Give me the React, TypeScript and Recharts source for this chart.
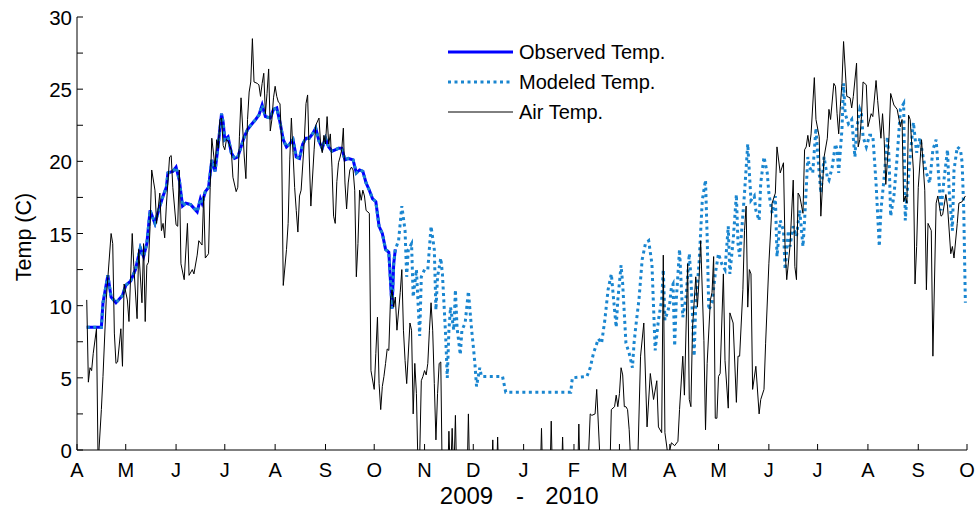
import { Line, LineChart, XAxis, YAxis } from "recharts";

// day offsets counted from 1 April 2009
const observed: [number, number][] = [
  [6, 8.5], [15, 8.5], [16, 10.2], [19, 12.1], [21, 10.6], [24, 10.2], [28, 10.7], [30, 11.4],
  [33, 11.7], [36, 12.5], [39, 14.0], [41, 13.4], [43, 14.3], [45, 16.6], [48, 15.7], [51, 16.9],
  [53, 17.6], [55, 18.2], [56, 19.2], [59, 19.3], [61, 19.6], [63, 18.7], [65, 16.9], [67, 17.1],
  [70, 17.0], [74, 16.5], [76, 17.4], [77, 17.1], [79, 17.9], [81, 18.2], [83, 20.1], [85, 19.3],
  [87, 21.2], [89, 23.3], [90, 22.7], [91, 21.5], [93, 21.7], [95, 20.6], [97, 20.2], [99, 20.3],
  [101, 21.0], [103, 21.7], [105, 22.2], [107, 22.5], [110, 22.9], [112, 23.2], [114, 23.9],
  [116, 23.1], [119, 23.0], [121, 23.6], [123, 23.7], [125, 22.7], [127, 21.5], [129, 21.0],
  [131, 21.2], [133, 21.5], [135, 20.3], [137, 20.2], [139, 21.2], [141, 21.6], [143, 21.6],
  [145, 21.9], [147, 22.3], [149, 21.4], [151, 20.9], [153, 21.6], [155, 21.0], [157, 20.7],
  [159, 20.8], [161, 20.9], [163, 20.9], [165, 20.1], [167, 20.2], [170, 20.1], [172, 19.2],
  [174, 19.4], [176, 19.3], [178, 18.5], [180, 18.0], [182, 17.4], [184, 17.2], [186, 15.5],
  [188, 15.0], [190, 13.9], [192, 13.7], [194, 9.8], [195, 12.9], [196, 13.9]
];

const modeledTail: [number, number][] = [
  [198, 14.5], [200, 16.9], [202, 15.2], [203, 12.0], [204, 13.9], [206, 14.3], [207, 10.6],
  [209, 12.5], [211, 7.9], [212, 12.0], [214, 12.5], [216, 12.5], [218, 15.5], [220, 13.9],
  [221, 9.7], [222, 12.0], [224, 13.3], [225, 12.2], [227, 7.9], [228, 5.0], [229, 8.3],
  [230, 9.9], [232, 8.3], [233, 11.1], [234, 8.5], [236, 6.6], [237, 8.3], [239, 8.8],
  [241, 11.0], [243, 8.3], [244, 7.2], [245, 6.0], [246, 4.4], [248, 5.7], [249, 5.1],
  [262, 5.1], [264, 4.0], [304, 4.0], [305, 5.0], [314, 5.1], [316, 5.7], [318, 6.7], [321, 7.7],
  [323, 7.4], [325, 9.0], [327, 11.1], [329, 12.2], [331, 9.7], [332, 8.5], [333, 10.4],
  [335, 12.8], [336, 11.5], [338, 7.4], [340, 6.7], [342, 5.7], [343, 7.4], [344, 8.5],
  [346, 10.4], [348, 13.2], [350, 14.3], [352, 14.5], [354, 12.9], [356, 6.9], [358, 9.0],
  [360, 10.4], [361, 12.5], [362, 9.0], [364, 9.7], [365, 10.2], [366, 11.3], [367, 11.5],
  [368, 7.2], [369, 10.4], [371, 13.9], [373, 9.2], [375, 10.6], [377, 13.6], [378, 12.0],
  [380, 6.5], [381, 10.2], [383, 12.9], [385, 17.3], [387, 18.7], [388, 14.8], [389, 9.7],
  [391, 10.2], [393, 12.2], [395, 13.6], [397, 12.9], [399, 12.5], [401, 15.5], [402, 12.2],
  [404, 14.5], [406, 17.7], [407, 14.3], [408, 13.4], [409, 14.8], [411, 17.8], [413, 21.2],
  [414, 19.2], [415, 17.3], [417, 17.6], [418, 16.6], [420, 15.9], [421, 18.5], [423, 20.3],
  [425, 19.2], [426, 17.8], [428, 16.4], [430, 17.6], [431, 13.4], [433, 15.9], [435, 15.2],
  [436, 12.5], [438, 15.2], [439, 14.1], [441, 15.5], [443, 14.8], [445, 16.6], [447, 14.1],
  [448, 15.9], [450, 20.3], [451, 19.6], [453, 19.2], [455, 22.3], [456, 20.6], [458, 17.8],
  [460, 20.3], [462, 18.9], [463, 18.7], [465, 19.6], [467, 21.2], [468, 20.8], [469, 19.2],
  [471, 22.2], [472, 25.4], [473, 23.3], [475, 22.6], [477, 22.9], [479, 20.3], [480, 22.2],
  [482, 23.6], [483, 23.3], [484, 21.7], [486, 21.0], [488, 21.8], [490, 21.8], [492, 18.5],
  [494, 14.1], [495, 16.6], [497, 18.9], [499, 21.7], [500, 20.3], [501, 16.2], [503, 17.6],
  [505, 20.3], [507, 23.6], [509, 24.0], [510, 15.9], [511, 17.6], [513, 20.3], [515, 22.7],
  [517, 20.6], [519, 21.6], [521, 20.3], [523, 19.2], [525, 18.5], [527, 20.8], [529, 21.5],
  [532, 16.6], [534, 18.9], [536, 20.8], [537, 18.0], [539, 15.2], [540, 19.4], [542, 21.0],
  [544, 20.8], [545, 19.9], [546, 16.6], [547, 10.2]
];

const airTemp: [number, number][] = [
  [6, 10.4], [7, 4.7], [8, 5.7], [9, 5.5], [10, 6.7], [12, 8.4], [13, -1], [15, 2.8], [16, 5.1],
  [18, 10.4], [21, 15.0], [22, 14.3], [23, 8.1], [24, 6.0], [25, 6.1], [27, 8.4], [28, 5.8],
  [29, 11.5], [31, 10.4], [32, 8.9], [34, 15.0], [35, 12.7], [37, 9.1], [38, 13.9], [40, 10.2],
  [41, 14.3], [42, 8.9], [43, 12.8], [44, 13.0], [45, 15.5], [46, 19.4], [48, 18.0], [49, 15.7],
  [51, 17.8], [52, 15.2], [53, 15.7], [54, 14.7], [55, 16.9], [57, 20.3], [58, 20.4], [59, 18.2],
  [61, 15.6], [62, 15.5], [63, 19.4], [64, 12.9], [66, 11.8], [68, 15.7], [69, 12.1], [71, 12.5],
  [72, 12.2], [74, 13.5], [75, 14.5], [77, 14.2], [78, 17.6], [79, 13.3], [81, 13.6], [82, 18.2],
  [83, 21.6], [85, 19.6], [86, 21.5], [87, 20.9], [88, 22.9], [89, 23.0], [90, 21.1], [91, 20.8],
  [92, 21.5], [93, 21.4], [95, 20.8], [96, 18.9], [98, 17.9], [99, 18.2], [100, 21.7],
  [101, 24.4], [103, 20.3], [104, 18.8], [105, 22.9], [106, 24.8], [107, 25.5], [108, 28.5],
  [109, 25.5], [111, 25.4], [112, 25.3], [113, 24.5], [114, 25.4], [115, 26.1], [116, 23.3],
  [117, 24.7], [118, 26.4], [119, 22.1], [120, 22.9], [121, 24.4], [122, 25.2], [123, 24.5],
  [124, 24.1], [125, 24.0], [126, 21.2], [127, 11.4], [129, 13.9], [130, 15.7], [131, 20.1],
  [132, 23.0], [133, 20.6], [134, 18.2], [135, 16.6], [136, 15.1], [137, 17.6], [138, 18.0],
  [140, 21.5], [141, 24.0], [142, 24.6], [143, 20.3], [144, 16.9], [146, 20.8], [147, 22.5],
  [149, 23.0], [150, 21.2], [151, 20.6], [152, 21.8], [153, 21.2], [154, 23.1], [155, 21.2],
  [156, 21.9], [157, 19.6], [158, 16.2], [159, 15.7], [160, 18.6], [161, 19.9], [162, 20.3],
  [163, 20.8], [164, 22.3], [165, 18.5], [166, 16.7], [167, 18.5], [168, 19.4], [169, 19.6],
  [170, 19.4], [171, 18.0], [172, 12.0], [173, 14.3], [174, 18.0], [175, 17.3], [176, 18.0],
  [177, 17.6], [178, 16.6], [180, 16.4], [181, 5.5], [183, 4.2], [184, 6.7], [185, 9.2],
  [186, 4.6], [187, 2.8], [188, 4.4], [189, 5.1], [190, 6.0], [191, 7.0], [192, 6.9],
  [193, 10.4], [194, 11.1], [195, 9.9], [196, 10.6], [197, 8.3], [199, 10.9], [200, 12.5],
  [201, 8.3], [202, 6.2], [203, 4.6], [205, 8.8], [206, 8.3], [207, 2.5], [208, 6.0], [209, 3.9],
  [210, -1.5], [211, -0.5], [212, 4.8], [213, 5.1], [214, 5.5], [215, 5.2], [216, 6.0],
  [217, 8.3], [218, 10.2], [219, 8.3], [220, 4.6], [221, 0.7], [222, 3.9], [223, 6.0],
  [224, 6.1], [225, -3], [228, -3], [229, 1.3], [230, -2], [231, 1.5], [232, -2], [233, 2.4],
  [234, -3], [240, -3], [241, 2.5], [242, -3], [255, -3], [256, 0.7], [257, -3], [258, -3],
  [259, 0.9], [260, -3], [285, -3], [286, 1.5], [287, -3], [291, -3], [292, 2.0], [293, -3],
  [298, -3], [299, 0.9], [300, -3], [308, -3], [309, 1.8], [310, -3], [314, -3], [316, 2.5],
  [317, 2.4], [319, 2.5], [320, 4.2], [321, 1.8], [323, -3], [328, -2], [329, 2.8], [331, 3.0],
  [332, 3.8], [333, 3.0], [334, 3.9], [335, 5.7], [336, 5.2], [337, 3.0], [338, 3.0], [339, 2.8],
  [340, 1.4], [341, -1], [345, -2], [347, 6.5], [349, 8.8], [351, 1.6], [353, 5.3], [355, 3.5],
  [357, 4.8], [358, 1.6], [360, 1.2], [361, 13.5], [362, 1.2], [364, -0.5], [366, 0.5],
  [368, 0.3], [370, 0.6], [371, 2.8], [373, 6.5], [374, 3.8], [376, 12.9], [377, 3.5],
  [378, 3.0], [379, 8.5], [381, 12.0], [382, 9.9], [383, 11.8], [384, 14.5], [386, 7.6],
  [387, 1.4], [388, 6.0], [390, 10.4], [391, 10.9], [392, 13.4], [393, 2.2], [394, 2.2],
  [395, 5.1], [396, 5.3], [398, 12.2], [399, 6.2], [401, 2.9], [402, 9.5], [404, 8.8],
  [406, 3.3], [407, 6.5], [408, 6.5], [410, 11.1], [411, 15.2], [412, 16.9], [413, 9.9],
  [414, 12.5], [415, 12.2], [416, 4.2], [418, 5.8], [420, 2.5], [421, 3.5], [423, 4.2],
  [424, 7.4], [426, 12.9], [428, 17.1], [430, 17.8], [431, 21.0], [433, 19.2], [435, 19.9],
  [436, 13.9], [437, 11.8], [439, 14.1], [441, 18.7], [442, 12.7], [443, 11.8], [444, 17.8],
  [445, 17.6], [447, 16.4], [448, 20.8], [449, 21.0], [450, 21.8], [451, 21.0], [452, 21.9],
  [454, 25.8], [455, 22.9], [457, 21.7], [458, 16.2], [460, 20.3], [462, 21.6], [463, 23.6],
  [464, 22.9], [466, 25.4], [467, 25.2], [468, 23.3], [469, 21.9], [470, 23.8], [471, 25.4],
  [472, 28.3], [474, 24.5], [476, 24.4], [477, 23.7], [478, 24.5], [480, 26.8], [481, 21.0],
  [482, 21.5], [483, 23.1], [484, 25.5], [486, 25.3], [487, 22.4], [489, 23.3], [490, 23.1],
  [492, 25.6], [493, 24.2], [495, 21.6], [496, 23.3], [497, 21.5], [498, 18.4], [500, 21.7],
  [501, 24.7], [503, 23.9], [505, 23.6], [507, 22.4], [508, 22.9], [509, 17.2], [510, 17.6],
  [511, 17.1], [512, 23.2], [513, 22.9], [515, 19.4], [516, 11.5], [517, 14.1], [518, 18.2],
  [520, 21.5], [522, 18.0], [523, 11.1], [524, 15.7], [526, 15.2], [527, 6.5], [529, 17.1],
  [530, 17.6], [532, 16.2], [533, 16.3], [535, 17.7], [536, 16.9], [538, 13.6], [539, 14.1],
  [540, 13.3], [542, 15.7], [543, 17.1], [545, 17.2], [546, 17.4], [547, 17.6]
];

const monthLabels = ["A", "M", "J", "J", "A", "S", "O", "N", "D", "J", "F", "M", "A", "M", "J", "J", "A", "S", "O"];
const yTicks = [0, 2.5, 5, 7.5, 10, 12.5, 15, 17.5, 20, 22.5, 25, 27.5, 30];

const start = Date.UTC(2009, 3, 1);
const monthTicks = monthLabels.map((_, i) => Math.round((Date.UTC(2009, 3 + i, 1) - start) / 86400000));

const toRows = (pairs: [number, number][]) => pairs.map(([day, temp]) => ({ day, temp }));

const series = [
  { name: "Observed Temp.", data: toRows(observed), color: "#0000ff", width: 3, dash: undefined },
  { name: "Modeled Temp.", data: toRows([...observed, ...modeledTail]), color: "#1a86d0", width: 3, dash: "3 3.5" },
  { name: "Air Temp.", data: toRows(airTemp), color: "#000000", width: 1, dash: undefined }
];

const FONT = "'Liberation Sans', Arial, sans-serif";

function BottomTick({ x, y, payload }: any) {
  const i = monthTicks.indexOf(payload.value);
  return (
    <g>
      <line x1={x} x2={x} y1={y} y2={y - 6} stroke="#000" />
      <text x={x} y={y + 27} textAnchor="middle" fontSize={20} fontFamily={FONT} fill="#000">
        {monthLabels[i]}
      </text>
    </g>
  );
}

function TopTick({ x, y }: any) {
  return <line x1={x} x2={x} y1={y} y2={y + 6} stroke="#000" />;
}

function LeftTick({ x, y, payload }: any) {
  const major = payload.value % 5 === 0;
  return (
    <g>
      <line x1={x} x2={x + 6} y1={y} y2={y} stroke="#000" />
      {major && (
        <text x={x - 5} y={y + 8} textAnchor="end" fontSize={20.5} fontFamily={FONT} fill="#000">
          {payload.value}
        </text>
      )}
    </g>
  );
}

function RightTick({ x, y }: any) {
  return <line x1={x} x2={x - 6} y1={y} y2={y} stroke="#000" />;
}

function LegendBox() {
  return (
    <div style={{ position: "absolute", left: 445, top: 37, fontFamily: FONT, fontSize: 20, color: "#000" }}>
      {series.map((s) => (
        <div key={s.name} style={{ display: "flex", alignItems: "center", height: 30 }}>
          <svg width={74} height={10}>
            <line x1={3} x2={68} y1={5} y2={5} stroke={s.color} strokeWidth={s.width} strokeDasharray={s.dash} />
          </svg>
          <span>{s.name}</span>
        </div>
      ))}
    </div>
  );
}

export default function App() {
  return (
    <div style={{ position: "absolute", left: 0, top: 0, width: 979, height: 510, background: "#fff" }}>
      <LineChart width={979} height={510} margin={{ top: 17, right: 12, bottom: 0, left: 0 }}>
        <XAxis
          type="number"
          dataKey="day"
          domain={[0, 548]}
          ticks={monthTicks}
          interval={0}
          allowDataOverflow
          tickLine={false}
          tickSize={0}
          tickMargin={0}
          tick={<BottomTick />}
          axisLine={{ stroke: "#000" }}
          height={60}
        />
        <XAxis
          xAxisId="top"
          orientation="top"
          type="number"
          domain={[0, 548]}
          ticks={monthTicks}
          interval={0}
          tickLine={false}
          tickSize={0}
          tickMargin={0}
          tick={<TopTick />}
          axisLine={{ stroke: "#000" }}
          height={0}
        />
        <YAxis
          type="number"
          domain={[0, 30]}
          ticks={yTicks}
          interval={0}
          allowDataOverflow
          tickLine={false}
          tickSize={0}
          tickMargin={0}
          tick={<LeftTick />}
          axisLine={{ stroke: "#000" }}
          width={77}
        />
        <YAxis
          yAxisId="right"
          orientation="right"
          type="number"
          domain={[0, 30]}
          ticks={yTicks}
          interval={0}
          tickLine={false}
          tickSize={0}
          tickMargin={0}
          tick={<RightTick />}
          axisLine={{ stroke: "#000" }}
          width={0}
        />
        {series.map((s) => (
          <Line
            key={s.name}
            data={s.data}
            dataKey="temp"
            name={s.name}
            type="linear"
            stroke={s.color}
            strokeWidth={s.width}
            strokeDasharray={s.dash}
            dot={false}
            activeDot={false}
            isAnimationActive={false}
          />
        ))}
        <text x={31} y={237} transform="rotate(-90 31 237)" textAnchor="middle" fontSize={21.5} fontFamily={FONT} fill="#000">
          Temp (C)
        </text>
        <text x={466.5} y={504} textAnchor="middle" fontSize={24} fontFamily={FONT} fill="#000">2009</text>
        <text x={520} y={504} textAnchor="middle" fontSize={24} fontFamily={FONT} fill="#000">-</text>
        <text x={572} y={504} textAnchor="middle" fontSize={24} fontFamily={FONT} fill="#000">2010</text>
      </LineChart>
      <LegendBox />
    </div>
  );
}
